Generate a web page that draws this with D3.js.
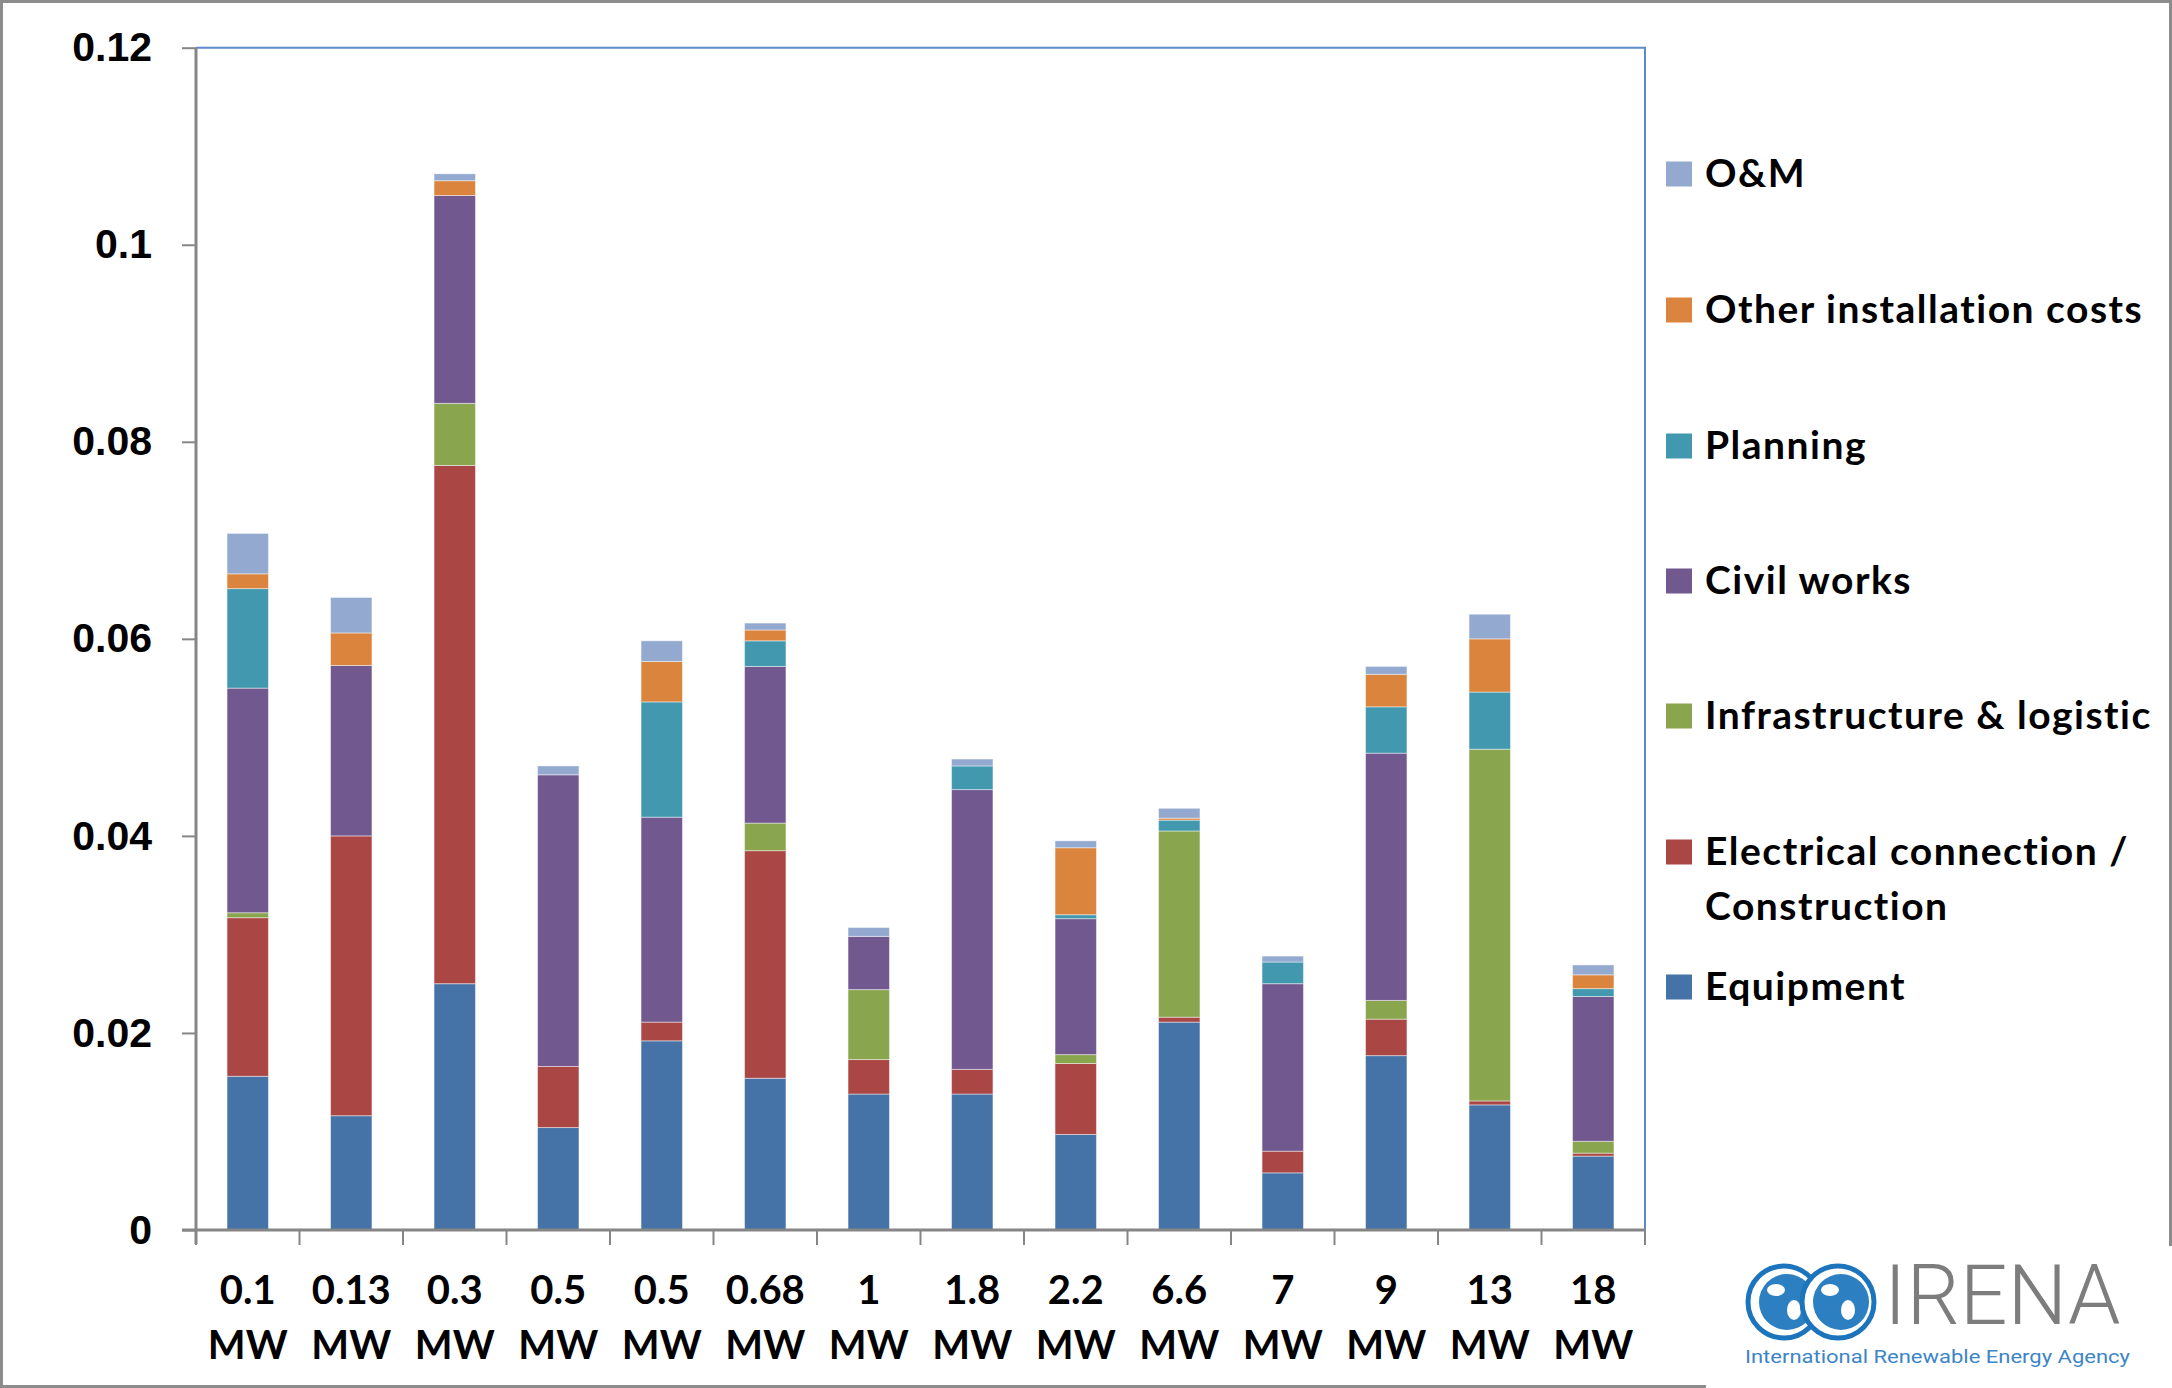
<!DOCTYPE html>
<html>
<head>
<meta charset="utf-8">
<script src="https://cdn.jsdelivr.net/npm/d3@7"></script>
<style>
  body { margin: 0; background: #fff; }
  svg { display: block; font-family: Lato, "Open Sans", sans-serif; }
</style>
</head>
<body>
<svg id="chart"></svg>
<script>
const categories = ["0.1 MW", "0.13 MW", "0.3 MW", "0.5 MW", "0.5 MW", "0.68 MW", "1 MW",
	"1.8 MW", "2.2 MW", "6.6 MW", "7 MW", "9 MW", "13 MW", "18 MW"];

const equipment      = [0.0156, 0.0116, 0.0250, 0.0104, 0.0192, 0.0154, 0.0138, 0.0138, 0.0097, 0.0211, 0.0058, 0.0177, 0.0127, 0.0075];
const electrical     = [0.0161, 0.0284, 0.0526, 0.0062, 0.0019, 0.0231, 0.0035, 0.0025, 0.0072, 0.0005, 0.0022, 0.0037, 0.0004, 0.0003];
const infrastructure = [0.0005, 0, 0.0063, 0, 0, 0.0028, 0.0071, 0, 0.0009, 0.0189, 0, 0.0019, 0.0357, 0.0012];
const civilWorks     = [0.0228, 0.0173, 0.0211, 0.0296, 0.0208, 0.0159, 0.0054, 0.0284, 0.0138, 0, 0.0170, 0.0251, 0, 0.0147];
const planning       = [0.0101, 0, 0, 0, 0.0117, 0.0026, 0, 0.0024, 0.0004, 0.0011, 0.0022, 0.0047, 0.0058, 0.0008];
const otherCosts     = [0.0015, 0.0033, 0.0015, 0, 0.0041, 0.0011, 0, 0, 0.0068, 0.0002, 0, 0.0033, 0.0054, 0.0014];
const om             = [0.0041, 0.0036, 0.0007, 0.0009, 0.0021, 0.0007, 0.0009, 0.0007, 0.0007, 0.0010, 0.0006, 0.0008, 0.0025, 0.0010];

const yTicks = [0, 0.02, 0.04, 0.06, 0.08, 0.1, 0.12];

// stacking order, bottom to top
const series = [
	{ key: "equipment", label: ["Equipment"], values: equipment, color: "#4572A7" },
	{ key: "electrical", label: ["Electrical connection /", "Construction"], values: electrical, color: "#AA4643" },
	{ key: "infra", label: ["Infrastructure & logistic"], values: infrastructure, color: "#89A54E" },
	{ key: "civil", label: ["Civil works"], values: civilWorks, color: "#71588F" },
	{ key: "planning", label: ["Planning"], values: planning, color: "#4198AF" },
	{ key: "other", label: ["Other installation costs"], values: otherCosts, color: "#DB843D" },
	{ key: "om", label: ["O&M"], values: om, color: "#93A9CF" }
];

const width = 2172, height = 1388;
const plot = { left: 196, right: 1645, top: 47.7, bottom: 1230 };

const svg = d3.select("#chart").attr("width", width).attr("height", height);

// outer chart border
svg.append("rect")
	.attr("x", 1.5).attr("y", 1.5)
	.attr("width", width - 3).attr("height", height - 3)
	.attr("fill", "#fff")
	.attr("stroke", "#8c8c8c")
	.attr("stroke-width", 3);

const rows = categories.map((c, i) => {
	const r = { idx: i, cat: c };
	series.forEach(s => r[s.key] = s.values[i]);
	return r;
});

const x = d3.scaleBand()
	.domain(d3.range(categories.length))
	.range([plot.left, plot.right])
	.paddingInner(0.6)
	.paddingOuter(0.3);

const y = d3.scaleLinear()
	.domain([0, 0.12])
	.range([plot.bottom, plot.top]);

const stacked = d3.stack().keys(series.map(s => s.key))(rows);

// plot area border (top and right)
svg.append("path")
	.attr("d", `M${plot.left},${plot.top}H${plot.right}V${plot.bottom}`)
	.attr("fill", "none")
	.attr("stroke", "#5B8BC9")
	.attr("stroke-width", 2);

svg.append("g")
	.selectAll("g")
	.data(stacked)
	.join("g")
	.attr("fill", (d, i) => series[i].color)
	.selectAll("rect")
	.data(d => d.filter(p => p[1] - p[0] > 0))
	.join("rect")
	.attr("x", d => x(d.data.idx))
	.attr("width", x.bandwidth())
	.attr("y", d => y(d[1]))
	.attr("height", d => y(d[0]) - y(d[1]))
	.attr("stroke", "#ffffff")
	.attr("stroke-opacity", 0.45)
	.attr("stroke-width", 1);

// y axis
const yAxis = svg.append("g")
	.attr("transform", `translate(${plot.left},0)`)
	.call(d3.axisLeft(y)
		.tickValues(yTicks)
		.tickFormat(d => d === 0 ? "0" : String(+d.toFixed(2)))
		.tickSize(14)
		.tickPadding(30));
yAxis.select(".domain")
	.attr("stroke", "#868686")
	.attr("stroke-width", 3)
	.attr("d", `M0,${plot.top}V${plot.bottom + 14}`);
yAxis.selectAll(".tick line").attr("stroke", "#868686").attr("stroke-width", 2);
yAxis.selectAll(".tick text")
	.attr("font-size", 41)
	.attr("font-weight", 700)
	.attr("fill", "#000");

// x axis
const xAxisG = svg.append("g");
xAxisG.append("line")
	.attr("x1", plot.left - 14).attr("x2", plot.right + 1)
	.attr("y1", plot.bottom).attr("y2", plot.bottom)
	.attr("stroke", "#868686")
	.attr("stroke-width", 3);
xAxisG.selectAll("line.tick")
	.data(d3.range(categories.length + 1))
	.join("line")
	.attr("class", "tick")
	.attr("x1", i => plot.left + i * x.step())
	.attr("x2", i => plot.left + i * x.step())
	.attr("y1", plot.bottom)
	.attr("y2", plot.bottom + 15)
	.attr("stroke", "#868686")
	.attr("stroke-width", 2);

const xLabels = xAxisG.selectAll("text")
	.data(rows)
	.join("text")
	.attr("x", d => x(d.idx) + x.bandwidth() / 2)
	.attr("y", 1304)
	.attr("text-anchor", "middle")
	.attr("font-size", 40)
	.attr("font-weight", 700)
	.attr("fill", "#000");
xLabels.selectAll("tspan")
	.data(d => d.cat.split(" "))
	.join("tspan")
	.attr("x", function () { return this.parentNode.getAttribute("x"); })
	.attr("dy", (d, i) => i === 0 ? 0 : 55)
	.text(d => d);

// legend, top to bottom
const legendItems = series.slice().reverse();
const legendY = [174, 310, 446, 581, 716, 852, 987];
const li = svg.append("g")
	.selectAll("g")
	.data(legendItems)
	.join("g")
	.attr("transform", (d, i) => `translate(1666,${legendY[i]})`);
li.append("rect")
	.attr("x", 0).attr("y", -12.5)
	.attr("width", 26).attr("height", 25)
	.attr("fill", d => d.color);
li.append("text")
	.attr("x", 39)
	.attr("y", 13)
	.attr("font-size", 39)
	.attr("font-weight", 700)
	.attr("letter-spacing", 1.5)
	.attr("fill", "#000")
	.selectAll("tspan")
	.data(d => d.label)
	.join("tspan")
	.attr("x", 39)
	.attr("dy", (d, i) => i === 0 ? 0 : 55)
	.text(d => d);

// IRENA logo block
const logo = svg.append("g");
logo.append("rect")
	.attr("x", 1706).attr("y", 1246)
	.attr("width", width - 1706).attr("height", height - 1246)
	.attr("fill", "#fff");
[1784, 1838].forEach(cx => {
	logo.append("circle")
		.attr("cx", cx).attr("cy", 1302).attr("r", 36)
		.attr("fill", "#ffffff")
		.attr("stroke", "#1C75BC")
		.attr("stroke-width", 5);
	logo.append("circle")
		.attr("cx", cx + 3).attr("cy", 1302).attr("r", 28)
		.attr("fill", "#2C7FC1");
	logo.append("ellipse")
		.attr("cx", cx - 8).attr("cy", 1290).attr("rx", 9).attr("ry", 6)
		.attr("fill", "#fff");
	logo.append("ellipse")
		.attr("cx", cx + 10).attr("cy", 1310).attr("rx", 7).attr("ry", 10)
		.attr("fill", "#fff");
});
logo.append("text")
	.attr("x", 1884).attr("y", 1324)
	.attr("font-family", "Roboto, sans-serif")
	.attr("font-weight", 300)
	.attr("font-size", 84)
	.attr("fill", "#7d7d7d")
	.text("IRENA");
logo.append("text")
	.attr("x", 1745).attr("y", 1363)
	.attr("font-family", "Roboto, sans-serif")
	.attr("font-size", 19)
	.attr("fill", "#3d85c6")
	.attr("textLength", 385)
	.attr("lengthAdjust", "spacingAndGlyphs")
	.text("International Renewable Energy Agency");
</script>
</body>
</html>
